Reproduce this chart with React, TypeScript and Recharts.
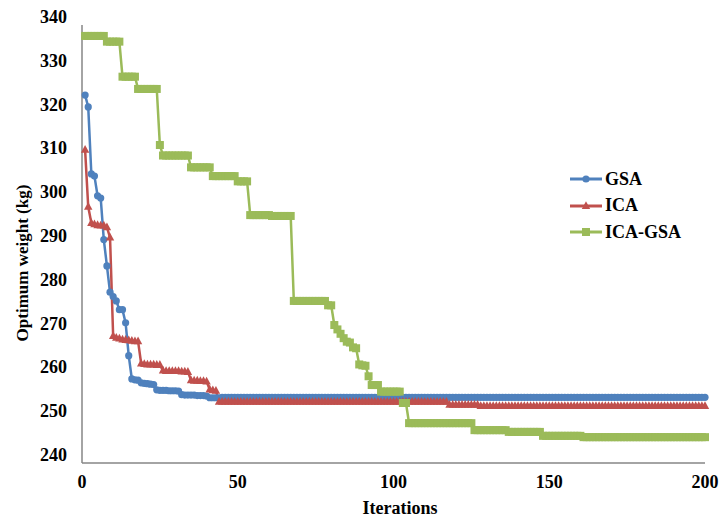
import React from "react";
import { LineChart, Line, XAxis, YAxis, Label } from "recharts";

const iterations = Array.from({ length: 200 }, (_, i) => i + 1);

// GSA, iterations 1..200
const gsa = [
  324, 321.3, 306, 305.5, 301, 300.5, 291, 285, 279, 278,
  277, 275, 275, 272, 264.5, 259.2, 259, 258.9, 258.3, 258.2,
  258.1, 258, 257.9, 256.7, 256.6, 256.6, 256.6, 256.5, 256.5, 256.5,
  256.4, 255.6, 255.5, 255.5, 255.5, 255.5, 255.4, 255.4, 255.4, 255.3,
  254.9, 254.9, 254.9, 254.9, 255, 255, 255, 255, 255, 255,
  255, 255, 255, 255, 255, 255, 255, 255, 255, 255,
  255, 255, 255, 255, 255, 255, 255, 255, 255, 255,
  255, 255, 255, 255, 255, 255, 255, 255, 255, 255,
  255, 255, 255, 255, 255, 255, 255, 255, 255, 255,
  255, 255, 255, 255, 255, 255, 255, 255, 255, 255,
  255, 255, 255, 255, 255, 255, 255, 255, 255, 255,
  255, 255, 255, 255, 255, 255, 255, 255, 255, 255,
  255, 255, 255, 255, 255, 255, 255, 255, 255, 255,
  255, 255, 255, 255, 255, 255, 255, 255, 255, 255,
  255, 255, 255, 255, 255, 255, 255, 255, 255, 255,
  255, 255, 255, 255, 255, 255, 255, 255, 255, 255,
  255, 255, 255, 255, 255, 255, 255, 255, 255, 255,
  255, 255, 255, 255, 255, 255, 255, 255, 255, 255,
  255, 255, 255, 255, 255, 255, 255, 255, 255, 255,
  255, 255, 255, 255, 255, 255, 255, 255, 255, 255,
];

// ICA, iterations 1..200
const ica = [
  311.5, 298.5, 294.8, 294.5, 294.3, 294.2, 294.2, 293.8, 291.5, 269,
  268.6, 268.4, 268.2, 268.1, 268, 267.9, 267.8, 267.8, 262.7, 262.6,
  262.5, 262.5, 262.5, 262.4, 262.4, 261.1, 261, 261, 261, 261,
  261, 260.9, 260.9, 260.8, 258.9, 258.8, 258.8, 258.7, 258.7, 258.6,
  256.8, 256.6, 256.5, 254, 254, 254, 254, 254, 254, 254,
  254, 254, 254, 254, 254, 254, 254, 254, 254, 254,
  254, 254, 254, 254, 254, 254, 254, 254, 254, 254,
  254, 254, 254, 254, 254, 254, 254, 254, 254, 254,
  254, 254, 254, 254, 254, 254, 254, 254, 254, 254,
  254, 254, 254, 254, 254, 254, 254, 254, 254, 254,
  254, 254, 254, 254, 254, 254, 254, 254, 254, 254,
  254, 254, 254, 254, 254, 254, 254, 253.3, 253.3, 253.3,
  253.3, 253.3, 253.3, 253.3, 253.3, 253.3, 253.3, 253, 253, 253,
  253, 253, 253, 253, 253, 253, 253, 253, 253, 253,
  253, 253, 253, 253, 253, 253, 253, 253, 253, 253,
  253, 253, 253, 253, 253, 253, 253, 253, 253, 253,
  253, 253, 253, 253, 253, 253, 253, 253, 253, 253,
  253, 253, 253, 253, 253, 253, 253, 253, 253, 253,
  253, 253, 253, 253, 253, 253, 253, 253, 253, 253,
  253, 253, 253, 253, 253, 253, 253, 253, 253, 253,
];

// ICA-GSA, iterations 1..200
const icaGsa = [
  337.5, 337.5, 337.5, 337.5, 337.5, 337.5, 337.5, 336.2, 336.2, 336.2,
  336.2, 336.2, 328.2, 328.2, 328.2, 328.2, 328.2, 325.4, 325.4, 325.4,
  325.4, 325.4, 325.4, 325.4, 312.6, 310.2, 310.2, 310.2, 310.2, 310.2,
  310.2, 310.2, 310.2, 310.2, 307.5, 307.5, 307.5, 307.5, 307.5, 307.5,
  307.5, 305.5, 305.5, 305.5, 305.5, 305.5, 305.5, 305.5, 305.5, 304.3,
  304.3, 304.3, 304.3, 296.6, 296.6, 296.6, 296.6, 296.6, 296.6, 296.6,
  296.4, 296.4, 296.4, 296.4, 296.4, 296.4, 296.4, 277, 277, 277,
  277, 277, 277, 277, 277, 277, 277, 277, 276, 276,
  271.5, 270.5, 269.5, 268.5, 267.7, 267.5, 266.4, 266.2, 262.5, 262.3,
  262.2, 259.8, 257.8, 257.8, 257.8, 256.3, 256.3, 256.3, 256.3, 256.3,
  256.3, 256.3, 253.7, 253.7, 249.1, 249.1, 249.1, 249.1, 249.1, 249.1,
  249.1, 249.1, 249.1, 249.1, 249.1, 249.1, 249.1, 249.1, 249.1, 249.1,
  249.1, 249.1, 249.1, 249.1, 249.1, 247.5, 247.5, 247.5, 247.5, 247.5,
  247.5, 247.5, 247.5, 247.5, 247.5, 247.5, 247.1, 247.1, 247.1, 247.1,
  247.1, 247.1, 247.1, 247.1, 247.1, 247.1, 247.1, 246.2, 246.2, 246.2,
  246.2, 246.2, 246.2, 246.2, 246.2, 246.2, 246.2, 246.2, 246.2, 246.2,
  245.9, 245.9, 245.9, 245.9, 245.9, 245.9, 245.9, 245.9, 245.9, 245.9,
  245.9, 245.9, 245.9, 245.9, 245.9, 245.9, 245.9, 245.9, 245.9, 245.9,
  245.9, 245.9, 245.9, 245.9, 245.9, 245.9, 245.9, 245.9, 245.9, 245.9,
  245.9, 245.9, 245.9, 245.9, 245.9, 245.9, 245.9, 245.9, 245.9, 245.9,
];

const xTicks = [0, 50, 100, 150, 200];
const yTicks = [240, 250, 260, 270, 280, 290, 300, 310, 320, 330, 340];

const BLUE = "#4F81BD";
const RED = "#C0504D";
const GREEN = "#9BBB59";
const FONT = "'Liberation Serif', 'Times New Roman', serif";

const data = iterations.map((it, i) => ({
  it,
  gsa: gsa[i],
  ica: ica[i],
  icaGsa: icaGsa[i],
}));

function Marker({ kind, cx, cy }: { kind: string; cx: number; cy: number }) {
  if (kind === "circle") {
    return <circle cx={cx} cy={cy} r={3.6} fill={BLUE} />;
  }
  if (kind === "triangle") {
    return (
      <polygon
        points={`${cx},${cy - 4.8} ${cx - 4.2},${cy + 3} ${cx + 4.2},${cy + 3}`}
        fill={RED}
      />
    );
  }
  return <rect x={cx - 4} y={cy - 4} width={8} height={8} fill={GREEN} />;
}

const makeDot = (kind: string) => (props: any) => {
  const { cx, cy, index } = props;
  if (cx == null || cy == null) return <g key={`${kind}-${index}`} />;
  return (
    <g key={`${kind}-${index}`}>
      <Marker kind={kind} cx={cx} cy={cy} />
    </g>
  );
};

const legendItems = [
  { name: "GSA", color: BLUE, kind: "circle" },
  { name: "ICA", color: RED, kind: "triangle" },
  { name: "ICA-GSA", color: GREEN, kind: "square" },
];

// legend sits inside the plot, drawn outside recharts so it takes no layout space
function LegendBox() {
  return (
    <div
      style={{
        position: "absolute",
        left: 569,
        top: 166,
        fontFamily: FONT,
        fontWeight: "bold",
        fontSize: 18,
      }}
    >
      {legendItems.map((item) => (
        <div
          key={item.name}
          style={{ display: "flex", alignItems: "center", height: 26.5 }}
        >
          <svg width={34} height={12}>
            <line x1={1} y1={6} x2={33} y2={6} stroke={item.color} strokeWidth={3} />
            <Marker kind={item.kind} cx={17} cy={6} />
          </svg>
          <span style={{ marginLeft: 2, color: "#000" }}>{item.name}</span>
        </div>
      ))}
    </div>
  );
}

const YTick = (props: any) => {
  const { x, y, payload } = props;
  return (
    <text
      x={x}
      y={y - 8}
      textAnchor="end"
      dominantBaseline="central"
      fontFamily={FONT}
      fontWeight="bold"
      fontSize={18}
      fill="#000"
    >
      {payload.value}
    </text>
  );
};

const XTick = (props: any) => {
  const { x, y, payload } = props;
  return (
    <text
      x={x}
      y={y}
      textAnchor="middle"
      dominantBaseline="central"
      fontFamily={FONT}
      fontWeight="bold"
      fontSize={18}
      fill="#000"
    >
      {payload.value}
    </text>
  );
};

export default function App() {
  return (
    <div
      style={{
        position: "absolute",
        left: 0,
        top: 0,
        width: 723,
        height: 519,
        background: "#fff",
      }}
    >
      <LineChart
        width={723}
        height={519}
        data={data}
        margin={{ top: 25, right: 18, bottom: 6, left: 0 }}
      >
        <XAxis
          dataKey="it"
          type="number"
          domain={[0, 200]}
          ticks={xTicks}
          tick={XTick}
          tickLine={false}
          tickSize={0}
          tickMargin={19}
          height={50}
          stroke="#868686"
          strokeWidth={1.5}
        >
          <Label
            content={() => (
              <text
                x={400}
                y={508}
                textAnchor="middle"
                dominantBaseline="central"
                fontFamily={FONT}
                fontWeight="bold"
                fontSize={18}
                fill="#000"
              >
                Iterations
              </text>
            )}
          />
        </XAxis>
        <YAxis
          type="number"
          domain={[240, 340]}
          ticks={yTicks}
          tick={YTick}
          tickLine={false}
          tickSize={0}
          tickMargin={15}
          width={82}
          stroke="#868686"
          strokeWidth={1.5}
        >
          <Label
            content={() => (
              <text
                x={22}
                y={263}
                transform="rotate(-90, 22, 263)"
                textAnchor="middle"
                dominantBaseline="central"
                fontFamily={FONT}
                fontWeight="bold"
                fontSize={17}
                fill="#000"
              >
                Optimum weight (kg)
              </text>
            )}
          />
        </YAxis>
        <Line
          dataKey="gsa"
          name="GSA"
          type="linear"
          stroke={BLUE}
          strokeWidth={2.5}
          dot={makeDot("circle")}
          activeDot={false}
          isAnimationActive={false}
        />
        <Line
          dataKey="ica"
          name="ICA"
          type="linear"
          stroke={RED}
          strokeWidth={2.5}
          dot={makeDot("triangle")}
          activeDot={false}
          isAnimationActive={false}
        />
        <Line
          dataKey="icaGsa"
          name="ICA-GSA"
          type="linear"
          stroke={GREEN}
          strokeWidth={2.5}
          dot={makeDot("square")}
          activeDot={false}
          isAnimationActive={false}
        />
      </LineChart>
      <LegendBox />
    </div>
  );
}
